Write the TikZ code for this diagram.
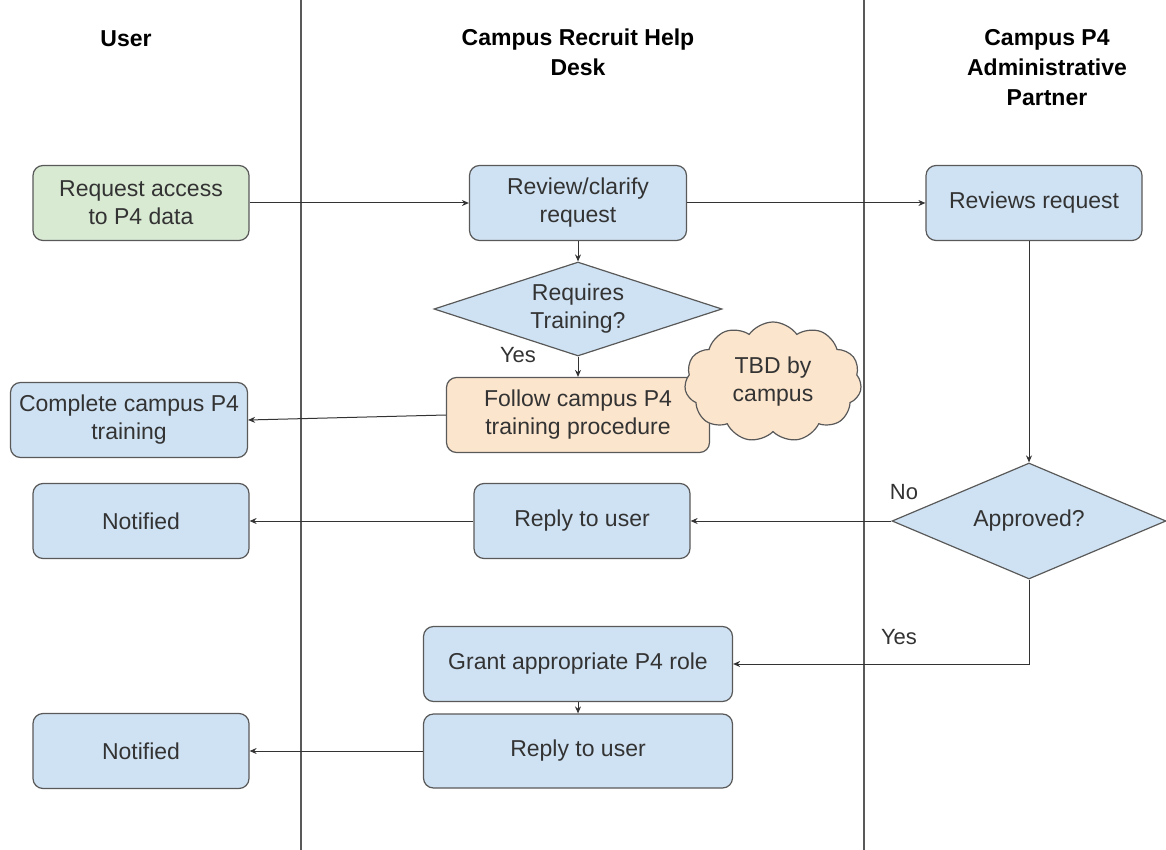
\documentclass[tikz,border=0pt]{standalone}
\usepackage{fontspec}
\setmainfont{Liberation Sans}
\usetikzlibrary{arrows.meta,shapes.geometric,shapes.symbols}

\definecolor{boxblue}{HTML}{CFE2F3}
\definecolor{boxgreen}{HTML}{D9EAD3}
\definecolor{boxorange}{HTML}{FCE5CD}
\definecolor{linegray}{HTML}{595959}
\definecolor{textgray}{HTML}{333333}

\tikzset{
  stepbox/.style = {draw = linegray, line width = 1.2pt, fill = boxblue,
    rounded corners = 10pt, align = center, text = textgray,
    minimum height = 75pt, inner sep = 0pt,
    font = \fontsize{23}{28}\selectfont},
  decision/.style = {diamond, draw = linegray, line width = 1.2pt, fill = boxblue,
    align = center, text = textgray, inner sep = 0pt, aspect = 3,
    font = \fontsize{23}{28}\selectfont},
  lane/.style = {align = center, font = \bfseries\fontsize{23}{30}\selectfont},
  flow/.style = {draw = textgray, line width = 1pt,
    -{Stealth[length = 7pt, width = 6pt]}},
  tag/.style = {text = textgray, font = \fontsize{22}{24}\selectfont}
}

\begin{document}
\begin{tikzpicture}[x = 1pt, y = -1pt]
        \useasboundingbox (0,0) rectangle (1166,850);

        % draws the lanes
        \draw[line width = 1.2pt, color = linegray]
          (301,0) -- (301,850) (864,0) -- (864,850);

        \node[lane] (hUser) at (126,39) {User};
        \node[lane] (hDesk) at (578,52) {Campus Recruit Help\\Desk};
        \node[lane] (hPartner) at (1047,68) {Campus P4\\Administrative\\Partner};

        % draws the steps
        \node[stepbox, fill = boxgreen, minimum width = 216pt]
          (request) at (141,203) {Request access\\to P4 data};
        \node[stepbox, minimum width = 217pt]
          (review) at (578,203) {Review/clarify\\request};
        \node[stepbox, minimum width = 216pt]
          (reviews) at (1034,203) {Reviews request};
        \node[decision, minimum width = 288pt, minimum height = 94pt]
          (training) at (578,309) {Requires\\Training?};
        \node[stepbox, fill = boxorange, minimum width = 263pt]
          (follow) at (578,415) {Follow campus P4\\training procedure};
        \node[cloud, cloud puffs = 11, cloud puff arc = 110, aspect = 1.5,
          draw = linegray, line width = 1.2pt, fill = boxorange,
          minimum width = 177pt, minimum height = 120pt, align = center,
          text = textgray, inner sep = 0pt, font = \fontsize{23}{28}\selectfont]
          (tbd) at (773,382) {TBD by\\campus};
        \node[stepbox, minimum width = 237pt]
          (complete) at (129,420) {Complete campus P4\\training};
        \node[decision, minimum width = 274pt, minimum height = 116pt]
          (approved) at (1029,521) {Approved?};
        \node[stepbox, minimum width = 216pt]
          (reply) at (582,521) {Reply to user};
        \node[stepbox, minimum width = 216pt]
          (notified) at (141,521) {Notified};
        \node[stepbox, minimum width = 309pt]
          (grant) at (578,664) {Grant appropriate P4 role};
        \node[stepbox, minimum width = 309pt, minimum height = 74pt]
          (replyb) at (578,751) {Reply to user};
        \node[stepbox, minimum width = 216pt]
          (notifiedb) at (141,751) {Notified};

        % draws the labels
        \node[tag] (yesTraining) at (518,355) {Yes};
        \node[tag] (no) at (904,492) {No};
        \node[tag] (yesApproved) at (899,637) {Yes};

        % draws the flow
        \draw[flow] (request) -- (review);
        \draw[flow] (review) -- (reviews);
        \draw[flow] (review) -- (training);
        \draw[flow] (training) -- (follow);
        \draw[flow] (follow.west) -- (complete.east);
        \draw[flow] (reviews.south -| approved.north) -- (approved.north);
        \draw[flow] (approved.west) -- (reply.east);
        \draw[flow] (reply) -- (notified);
        \draw[flow] (approved.south) |- (grant.east);
        \draw[flow] (grant) -- (replyb);
        \draw[flow] (replyb) -- (notifiedb);
      \end{tikzpicture}
\end{document}
